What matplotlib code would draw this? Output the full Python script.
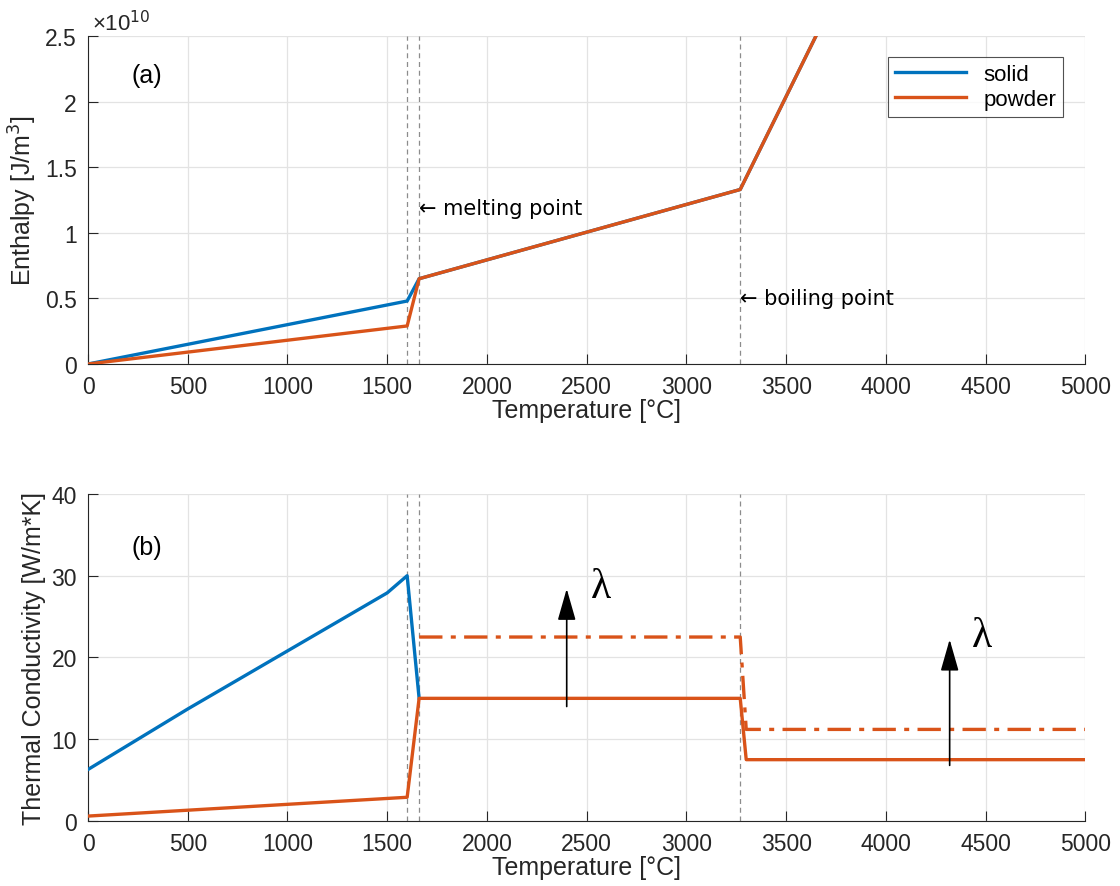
import numpy as np
import matplotlib
matplotlib.use("Agg")
import matplotlib.pyplot as plt
from matplotlib.ticker import FuncFormatter

plt.rcParams['font.family'] = ['Liberation Sans', 'DejaVu Sans']

blue = '#0072BD'
orange = '#D95319'

# phase change temperatures
t_melt1 = 1600
t_melt2 = 1660
t_boil = 3270

# enthalpy [J/m^3]
h_solid_T = [0, 1600, 1660, 3270, 5000]
h_solid = [0, 0.48e10, 0.65e10, 1.33e10, 6.66e10]
h_powder_T = [0, 1600, 1660, 3270, 5000]
h_powder = [0, 0.29e10, 0.65e10, 1.33e10, 6.66e10]

# thermal conductivity [W/m*K]
k_solid_T = [0, 500, 1000, 1500, 1600, 1660]
k_solid = [6.3, 13.7, 20.8, 27.9, 30, 15]
k_powder_T = [0, 1600, 1660, 3270, 3300, 5000]
k_powder = [0.6, 2.9, 15, 15, 7.5, 7.5]
k_rad_T = [1660, 3270, 3300, 5000]
k_rad = [22.5, 22.5, 11.2, 11.2]

fig = plt.figure(figsize=(11.2, 8.87), dpi=100)
ax1 = fig.add_axes([0.0786, 0.5885, 0.8904, 0.3698])
ax2 = fig.add_axes([0.0786, 0.0733, 0.8904, 0.3687])


def style(ax):
    ax.set_xlim(0, 5000)
    ax.set_xticks(np.arange(0, 5001, 500))
    ax.grid(True, color='#e3e3e3', lw=0.9)
    ax.set_axisbelow(True)
    for s in ['top', 'right']:
        ax.spines[s].set_visible(False)
    for s in ['left', 'bottom']:
        ax.spines[s].set_color('#262626')
        ax.spines[s].set_linewidth(0.8)
    ax.tick_params(direction='in', length=7, width=0.8, color='#262626',
                   labelsize=16.5, labelcolor='#262626', pad=8)
    ax.set_xlabel('Temperature [°C]', fontsize=18, color='#262626', labelpad=0)
    for t in [t_melt1, t_melt2, t_boil]:
        ax.axvline(t, color='#8c8c8c', ls=(0, (4, 3)), lw=0.9, zorder=1)


# (a) enthalpy
style(ax1)
ax1.plot(h_solid_T, h_solid, color=blue, lw=2.4, label='solid', zorder=3)
ax1.plot(h_powder_T, h_powder, color=orange, lw=2.4, label='powder', zorder=4)
ax1.set_ylim(0, 2.5e10)
ax1.set_yticks(np.arange(0, 2.51e10, 0.5e10))
ax1.yaxis.set_major_formatter(FuncFormatter(lambda v, p: '%g' % (v / 1e10)))
ax1.set_ylabel('Enthalpy [J/m$^3$]', fontsize=18, color='#262626')
ax1.text(0.004, 1.003, '×10$^{10}$', transform=ax1.transAxes, fontsize=16,
         color='#262626', ha='left', va='bottom')
ax1.text(296, 2.2e10, '(a)', fontsize=18, ha='center', va='center')
ax1.text(t_melt2, 1.19e10, '← melting point', fontsize=15, ha='left', va='center',
         family=['DejaVu Sans'])
ax1.text(t_boil, 0.5e10, '← boiling point', fontsize=15, ha='left', va='center',
         family=['DejaVu Sans'])
leg = ax1.legend(loc='upper right', bbox_to_anchor=(0.978, 0.936), fontsize=16,
                 frameon=True, fancybox=False, handlelength=3.2,
                 borderpad=0.3, labelspacing=0.2, borderaxespad=0)
leg.get_frame().set_edgecolor('#262626')
leg.get_frame().set_linewidth(0.8)

# (b) thermal conductivity
style(ax2)
ax2.plot(k_solid_T, k_solid, color=blue, lw=2.4, zorder=3)
ax2.plot(k_powder_T, k_powder, color=orange, lw=2.4, zorder=4)
ax2.plot(k_rad_T, k_rad, color=orange, lw=2.4, ls=(0, (7, 2.5, 1.5, 2.5)), zorder=4)
ax2.set_ylim(0, 40)
ax2.set_yticks(np.arange(0, 41, 10))
ax2.set_ylabel('Thermal Conductivity [W/m*K]', fontsize=18, color='#262626')
ax2.text(296, 33.5, '(b)', fontsize=18, ha='center', va='center')

arrows = [(2400, 14, 28.4), (4320, 6.8, 22.2)]
for x, y0, y1 in arrows:
    ax2.annotate('', xy=(x, y1), xytext=(x, y0),
                 arrowprops=dict(arrowstyle='-|>,head_length=0.7,head_width=0.2',
                                 color='k', lw=1.2, mutation_scale=28,
                                 shrinkA=0, shrinkB=0),
                 zorder=6)
ax2.text(2570, 28.6, 'λ', fontsize=30, family=['Liberation Serif'],
         ha='center', va='center')
ax2.text(4480, 22.6, 'λ', fontsize=30, family=['Liberation Serif'],
         ha='center', va='center')

fig.savefig('out.png', dpi=100)
